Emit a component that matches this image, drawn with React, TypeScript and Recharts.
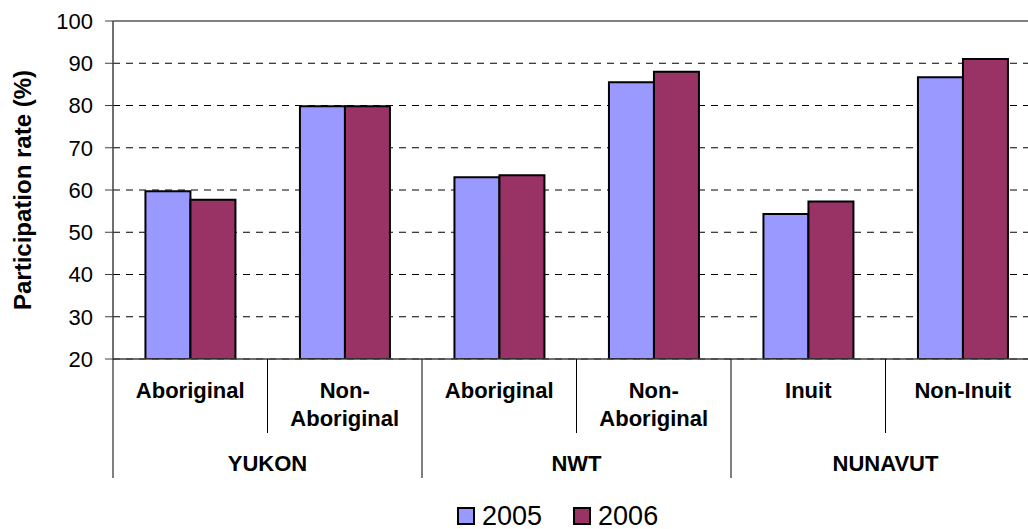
import { BarChart, Bar, XAxis, YAxis, CartesianGrid, Legend, ReferenceLine } from 'recharts';

const groups = ['YUKON', 'NWT', 'NUNAVUT'];
const categories = ['Aboriginal', 'Non-Aboriginal', 'Aboriginal', 'Non-Aboriginal', 'Inuit', 'Non-Inuit'];
const categoryLines = [['Aboriginal'], ['Non-', 'Aboriginal'], ['Aboriginal'], ['Non-', 'Aboriginal'], ['Inuit'], ['Non-Inuit']];
const values2005 = [59.7, 79.8, 63.0, 85.5, 54.3, 86.7];
const values2006 = [57.7, 79.8, 63.5, 88.0, 57.3, 91.0];
const yTicks = [20, 30, 40, 50, 60, 70, 80, 90, 100];

const data = categories.map((c, i) => ({
  key: groups[Math.floor(i / 2)] + ' ' + c,
  y2005: values2005[i],
  y2006: values2006[i],
}));

const FONT = '"Liberation Sans", Arial, sans-serif';
const CHART_W = 1060;
const Y_W = 113;
const M_RIGHT = 20;
const BAND = (CHART_W - Y_W - M_RIGHT) / categories.length;

function CategoryTick(props: any) {
  const { x, y, payload } = props;
  const i = props.index ?? payload.index;
  const lines = categoryLines[i];
  const left = x - BAND / 2;
  return (
    <g>
      <line x1={left} y1={y} x2={left} y2={y + (i % 2 === 0 ? 119 : 74)} stroke="#000" strokeWidth={1} />
      {i === categories.length - 1 && (
        <line x1={x + BAND / 2} y1={y} x2={x + BAND / 2} y2={y + 119} stroke="#000" strokeWidth={1} />
      )}
      {lines.map((l, k) => (
        <text key={k} x={x} y={y + 39 + k * 28} textAnchor="middle" fontFamily={FONT} fontWeight="bold" fontSize={22} fill="#000">
          {l}
        </text>
      ))}
      {i % 2 === 1 && (
        <text x={left} y={y + 112} textAnchor="middle" fontFamily={FONT} fontWeight="bold" fontSize={22} fill="#000">
          {groups[(i - 1) / 2]}
        </text>
      )}
    </g>
  );
}

function LegendContent() {
  const items = [
    { name: '2005', color: '#9999FF' },
    { name: '2006', color: '#993366' },
  ];
  return (
    <div style={{ display: 'flex', alignItems: 'center', fontFamily: FONT, fontSize: 27, color: '#000', height: 40 }}>
      {items.map((it) => (
        <div key={it.name} style={{ display: 'flex', alignItems: 'center', marginRight: 31 }}>
          <span style={{ width: 14, height: 14, background: it.color, border: '2px solid #000', marginRight: 7 }} />
          <span>{it.name}</span>
        </div>
      ))}
    </div>
  );
}

export default function App() {
  return (
    <div style={{ position: 'absolute', left: 0, top: 0, width: 1028, height: 529, overflow: 'hidden', background: '#fff' }}>
      <BarChart
        width={CHART_W}
        height={529}
        data={data}
        margin={{ top: 21, right: M_RIGHT, left: 0, bottom: 0 }}
        barCategoryGap="21%"
        barGap={0}
      >
        <CartesianGrid vertical={false} stroke="#000" strokeDasharray="7 6" />
        <ReferenceLine y={100} stroke="#808080" strokeWidth={2} />
        <XAxis
          dataKey="key"
          height={130}
          interval={0}
          tickLine={false}
          tickSize={0}
          tickMargin={0}
          axisLine={{ stroke: '#404040', strokeWidth: 1.5 }}
          tick={<CategoryTick />}
        />
        <YAxis
          width={Y_W}
          domain={[20, 100]}
          ticks={yTicks}
          interval={0}
          allowDataOverflow
          tickSize={8}
          tickMargin={12}
          axisLine={{ stroke: '#404040', strokeWidth: 1.5 }}
          tickLine={{ stroke: '#404040' }}
          tick={{ fontFamily: FONT, fontSize: 22, fill: '#000' }}
          label={{
            content: (p: any) => {
              const vb = p.viewBox;
              const cy = vb.y + vb.height / 2;
              return (
                <text
                  x={22}
                  y={cy}
                  transform={`rotate(-90, 22, ${cy})`}
                  textAnchor="middle"
                  dominantBaseline="central"
                  fontFamily={FONT}
                  fontWeight="bold"
                  fontSize={24}
                  fill="#000"
                >
                  Participation rate (%)
                </text>
              );
            },
          }}
        />
        <Legend height={40} wrapperStyle={{ left: 457, bottom: -7, width: 'auto' }} content={<LegendContent />} />
        <Bar dataKey="y2005" name="2005" fill="#9999FF" stroke="#000" strokeWidth={2} isAnimationActive={false} />
        <Bar dataKey="y2006" name="2006" fill="#993366" stroke="#000" strokeWidth={2} isAnimationActive={false} />
      </BarChart>
    </div>
  );
}
